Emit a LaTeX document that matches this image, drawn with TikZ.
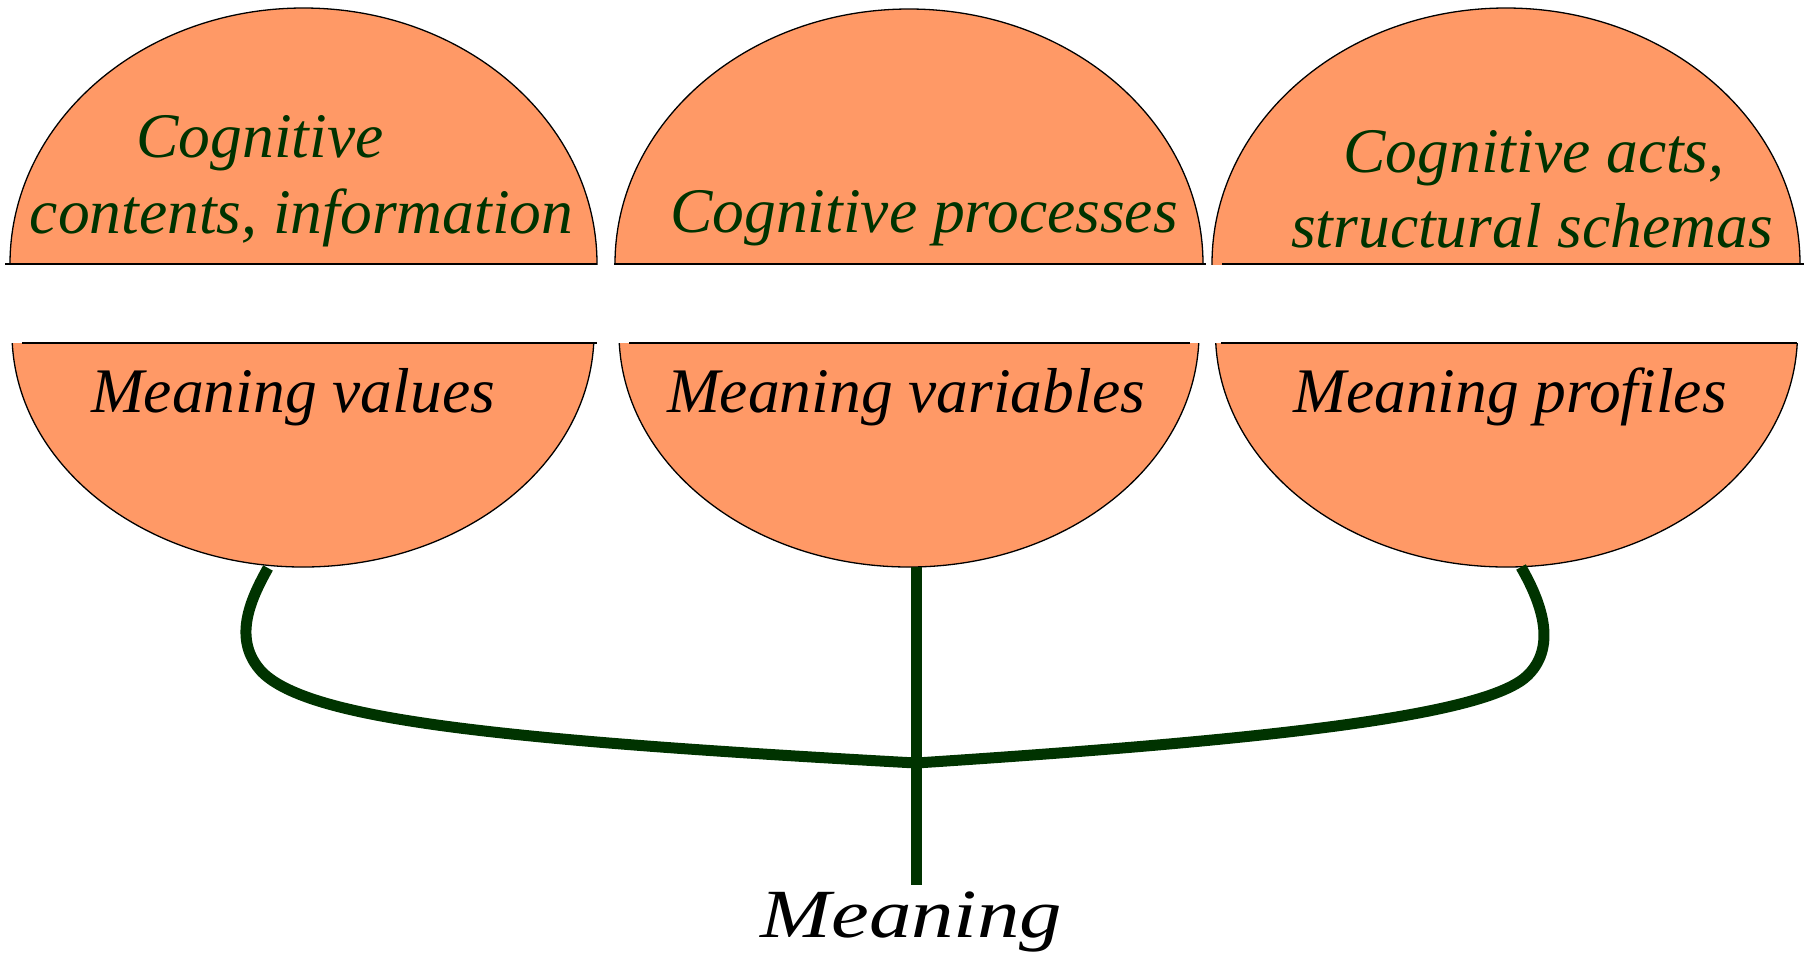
\documentclass[tikz,border=0pt]{standalone}
\usepackage{fontspec}
\usepackage{graphicx}
\setmainfont{Liberation Serif}
\definecolor{salmon}{HTML}{FF9966}
\definecolor{dkgreen}{HTML}{003300}
\tikzset{
  half/.style={fill=salmon, draw=black, line width=0.65pt},
  rule/.style={draw=black, line width=1.2pt},
  conn/.style={draw=dkgreen, line width=5.5pt, line cap=butt},
  toptext/.style={text=dkgreen, anchor=base, inner sep=0pt, font=\fontsize{31.75}{38}\selectfont\itshape},
  bottext/.style={text=black, anchor=base, inner sep=0pt, font=\fontsize{31.75}{38}\selectfont\itshape},
}
\begin{document}
\begin{tikzpicture}[x=0.5pt, y=-0.5pt]
\useasboundingbox (0,0) rectangle (1804,966);
% upper halves
\begin{scope}
  \clip (0,0) rectangle (1804,264);
  \path[half] (303.5,264) ellipse [x radius=146.75pt, y radius=128pt];
  \path[half] (909,264) ellipse [x radius=147pt, y radius=127.5pt];
  \path[half] (1506,264) ellipse [x radius=147pt, y radius=128pt];
\end{scope}
\draw[rule] (5,264) -- (597,264);
\draw[rule] (614,264) -- (1206,264);
\draw[rule] (1222,264) -- (1804,264);
% lower halves
\begin{scope}
  \clip (0,343) rectangle (1804,966);
  \path[half] (303,333) ellipse [x radius=145.5pt, y radius=117pt];
  \path[half] (909,333) ellipse [x radius=145pt, y radius=117pt];
  \path[half] (1506.5,333) ellipse [x radius=145.5pt, y radius=117pt];
\end{scope}
\draw[rule] (22,343) -- (597,343);
\draw[rule] (629,343) -- (1190,343);
\draw[rule] (1221,343) -- (1797,343);
% texts
\node[toptext] (t1a) at (260,157) {Cognitive};
\node[toptext] (t1b) at (301.5,233) {contents, information};
\node[toptext] (t2) at (924,232) {Cognitive processes};
\node[toptext] (t3a) at (1534,172) {Cognitive acts,};
\node[toptext] (t3b) at (1532,247) {structural schemas};
\node[bottext] (b1t) at (293,412) {Meaning values};
\node[bottext] (b2t) at (906,412) {Meaning variables};
\node[bottext] (b3t) at (1510,412) {Meaning profiles};
\node[text=black, anchor=base, inner sep=0pt, font=\fontsize{34.5}{40}\selectfont\itshape] (mean) at (911.5,937) {\scalebox{1.23}[1]{Meaning}};
% connectors
\coordinate (e1) at (268,568);
\coordinate (e2) at (916,567);
\coordinate (e3) at (1521,567);
\coordinate (j) at (916,763);
\coordinate (m) at (916,885);
\draw[conn] (e1) .. controls (250,600) and (232,640) .. (262,672)
  .. controls (310,720) and (500,740) .. (j);
\draw[conn] (e3) .. controls (1540,600) and (1558,645) .. (1528,675)
  .. controls (1490,713) and (1300,738) .. (j);
\draw[conn] (e2) -- (m);
\end{tikzpicture}
\end{document}
